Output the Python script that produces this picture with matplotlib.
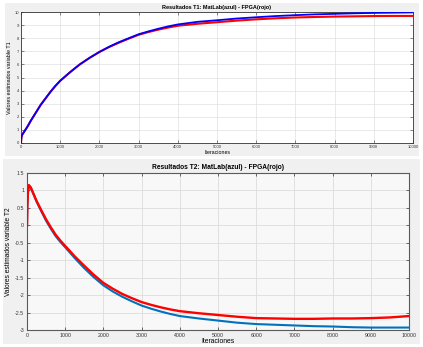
import matplotlib
matplotlib.use("Agg")
import matplotlib.pyplot as plt
from matplotlib.patches import Rectangle

plt.rcParams['font.family'] = ['Liberation Sans', 'DejaVu Sans']

# ---- data ----
iters = [0, 10, 25, 50, 100, 175, 250, 375, 500, 625, 750, 875, 1000,
         1250, 1500, 1750, 2000, 2250, 2500, 2750, 3000, 3250, 3500, 3750,
         4000, 4500, 5000, 5500, 6000, 6500, 7000, 7500, 8000, 8500, 9000,
         9500, 10000]

t1_matlab = [0, 0.4, 0.6, 0.72, 0.95, 1.3, 1.7, 2.3, 2.9, 3.4, 3.9, 4.35, 4.75,
             5.4, 6.0, 6.5, 6.95, 7.35, 7.7, 8.0, 8.3, 8.52, 8.72, 8.9,
             9.05, 9.25, 9.37, 9.5, 9.6, 9.69, 9.76, 9.82, 9.86, 9.9, 9.93,
             9.95, 9.97]
t1_fpga = [0, 0.4, 0.6, 0.72, 0.95, 1.3, 1.7, 2.3, 2.9, 3.4, 3.9, 4.35, 4.75,
           5.4, 6.0, 6.5, 6.95, 7.33, 7.66, 7.97, 8.26, 8.47, 8.65, 8.81,
           8.95, 9.1, 9.22, 9.34, 9.44, 9.52, 9.58, 9.62, 9.65, 9.67, 9.69,
           9.7, 9.7]

t2_matlab = [0, 0.6, 0.95, 1.15, 1.08, 0.88, 0.68, 0.4, 0.13, -0.1, -0.31,
             -0.48, -0.63, -0.94, -1.23, -1.49, -1.72, -1.9, -2.05, -2.18,
             -2.3, -2.39, -2.47, -2.54, -2.6, -2.67, -2.73, -2.79, -2.83,
             -2.85, -2.87, -2.89, -2.9, -2.92, -2.93, -2.93, -2.93]
t2_fpga = [0, 0.6, 0.95, 1.15, 1.08, 0.89, 0.7, 0.43, 0.17, -0.06, -0.27,
           -0.44, -0.59, -0.89, -1.16, -1.42, -1.65, -1.82, -1.97, -2.09,
           -2.2, -2.28, -2.35, -2.41, -2.46, -2.52, -2.57, -2.62, -2.66,
           -2.67, -2.68, -2.68, -2.67, -2.67, -2.66, -2.64, -2.6]

x_ticks = list(range(0, 10001, 1000))
y1_ticks = list(range(0, 11))
y2_ticks = [-3, -2.5, -2, -1.5, -1, -0.5, 0, 0.5, 1, 1.5]
y2_labels = ["-3", "-2.5", "-2", "-1.5", "-1", "-0.5", "0", "0.5", "1", "1.5"]

W, H = 423, 347
fig = plt.figure(figsize=(W / 100, H / 100), dpi=100, facecolor="white")

def px_rect(x0, y0, x1, y1):
    return (x0 / W, 1 - y1 / H, (x1 - x0) / W, (y1 - y0) / H)

# gray figure panels
for (x0, y0, x1, y1) in [(5, 3, 419, 156), (3, 159, 420, 344)]:
    l, b, w, h = px_rect(x0, y0, x1, y1)
    fig.patches.append(Rectangle((l, b), w, h, transform=fig.transFigure,
                                 facecolor="#f0f0f0", edgecolor="none", zorder=-10))

ax1 = fig.add_axes(px_rect(21, 12, 413, 143))
ax2 = fig.add_axes(px_rect(27, 173, 409, 330))

# top plot
ax1.set_facecolor("white")
ax1.plot(iters, t1_fpga, color=(1, 0, 0), lw=1.5, zorder=3)
ax1.plot(iters, t1_matlab, color=(0, 0, 1), lw=1.3, zorder=4)
ax1.set_xlim(0, 10000)
ax1.set_ylim(0, 10)
ax1.set_xticks(x_ticks)
ax1.set_yticks(y1_ticks)
ax1.tick_params(labelsize=3.0, direction="in", length=2, width=0.4,
                top=True, right=True, pad=1.5, colors="#333333")
ax1.grid(True, color="#e0e0e0", lw=0.5)
ax1.set_axisbelow(True)
for s in ax1.spines.values():
    s.set_color("#333333")
    s.set_linewidth(0.6)
ax1.set_title("Resultados T1: MatLab(azul) - FPGA(rojo)", fontsize=4.0,
              fontweight="bold", pad=2.5)
ax1.set_xlabel("Iteraciones", fontsize=3.8, labelpad=0.5)
ax1.set_ylabel("Valores estimados variable T1", fontsize=3.9, labelpad=2)

# bottom plot
ax2.set_facecolor("#f8f8f8")
ax2.plot(iters, t2_matlab, color=(0, 0.447, 0.741), lw=1.5, zorder=3)
ax2.plot(iters, t2_fpga, color=(1, 0, 0), lw=1.7, zorder=4)
ax2.set_xlim(0, 10000)
ax2.set_ylim(-3, 1.5)
ax2.set_xticks(x_ticks)
ax2.set_yticks(y2_ticks)
ax2.set_yticklabels(y2_labels)
ax2.tick_params(labelsize=3.8, direction="in", length=2.5, width=0.5,
                top=True, right=True, pad=2, colors="#333333")
ax2.grid(True, color="#dcdcdc", lw=0.6)
ax2.set_axisbelow(True)
for s in ax2.spines.values():
    s.set_color("#5a5a5a")
    s.set_linewidth(0.8)
ax2.set_title("Resultados T2: MatLab(azul) - FPGA(rojo)", fontsize=4.8,
              fontweight="bold", pad=3)
ax2.set_xlabel("Iteraciones", fontsize=4.9, labelpad=0.5)
ax2.set_ylabel("Valores estimados variable T2", fontsize=4.8, labelpad=2)

fig.savefig("out.png", dpi=100, facecolor="white")
